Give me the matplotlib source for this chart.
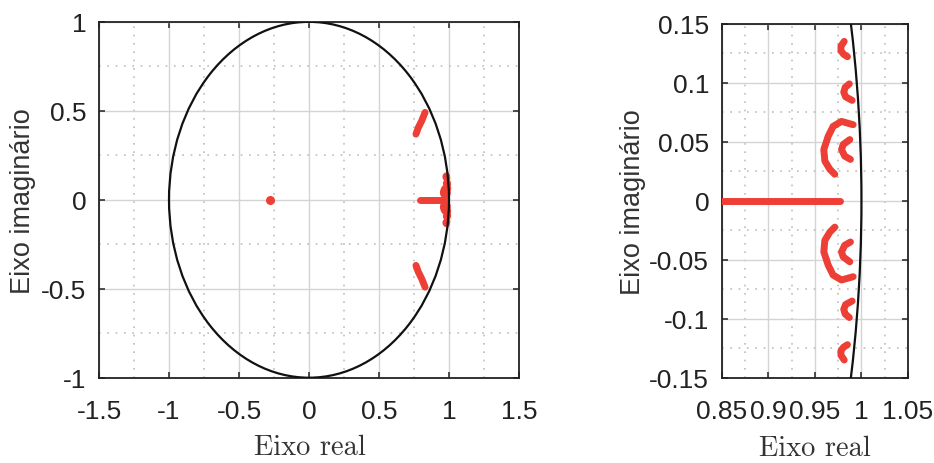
import numpy as np
import matplotlib
matplotlib.use('Agg')
import matplotlib.pyplot as plt
from matplotlib.patches import Circle
from matplotlib.ticker import MultipleLocator
from matplotlib import font_manager

# ── Pole loci (upper half; lower half is the complex conjugate) ──
dot_re = [-0.28]
dot_im = [0.0]

real_re = [0.79, 0.977]
real_im = [0.0, 0.0]

far_re = [0.764, 0.781, 0.805, 0.829]
far_im = [0.369, 0.406, 0.444, 0.491]

b1_re = [0.9815, 0.978, 0.978, 0.981, 0.985]
b1_im = [0.135, 0.131, 0.127, 0.124, 0.122]

b2_re = [0.987, 0.9825, 0.981, 0.983, 0.990]
b2_im = [0.099, 0.096, 0.092, 0.088, 0.085]

b3_re = [0.9911, 0.9786, 0.9696, 0.9643, 0.9596, 0.9607, 0.9661, 0.9714]
b3_im = [0.0644, 0.0672, 0.0630, 0.0546, 0.0434, 0.0336, 0.0266, 0.0224]

b4_re = [0.9875, 0.9804, 0.9786, 0.982, 0.9882]
b4_im = [0.0518, 0.0476, 0.0434, 0.0378, 0.0350]

branches = [(far_re, far_im), (b1_re, b1_im), (b2_re, b2_im),
            (b3_re, b3_im), (b4_re, b4_im)]

RED = '#EE3F36'

names = {f.name for f in font_manager.fontManager.ttflist}
if 'Liberation Sans Narrow' in names:
    TICK_FONT, TICK_SIZE = ['Liberation Sans Narrow', 'Liberation Sans'], 20
else:
    TICK_FONT, TICK_SIZE = ['Liberation Sans'], 19


def draw(ax):
    ax.add_patch(Circle((0, 0), 1.0, fill=False, color='#111111', lw=1.6, zorder=4))
    ax.plot(real_re, real_im, color=RED, lw=5, solid_capstyle='round', zorder=3)
    for re, im in branches:
        ax.plot(re, im, color=RED, lw=5, solid_capstyle='round',
                solid_joinstyle='round', zorder=3)
        ax.plot(re, [-v for v in im], color=RED, lw=5, solid_capstyle='round',
                solid_joinstyle='round', zorder=3)
    ax.plot(dot_re, dot_im, 'o', color=RED, ms=6.5, mec='none', zorder=3)

    ax.grid(True, which='major', color='#d4d4d4', lw=1.0, ls='-')
    ax.grid(True, which='minor', color='#bdbdbd', lw=1.2, ls=(0, (1, 4)))
    ax.set_axisbelow(True)
    for s in ax.spines.values():
        s.set_linewidth(1.3)
        s.set_color('#222222')
    ax.tick_params(which='major', direction='in', length=4, width=1.1,
                   top=True, right=True, colors='#222222')
    ax.tick_params(which='minor', length=0)
    ax.tick_params(axis='x', pad=15)
    ax.tick_params(axis='y', pad=9)
    for lab in ax.get_xticklabels() + ax.get_yticklabels():
        lab.set_family(TICK_FONT)
        lab.set_fontsize(TICK_SIZE)
        lab.set_color('#222222')
    ax.set_xlabel('Eixo real', family='cmr10', fontsize=20.5, color='#333333')
    ax.set_ylabel('Eixo imaginário', family='Liberation Sans', fontsize=19.5,
                  color='#333333')
    ax.xaxis.label.set_va('center')
    ax.yaxis.label.set_va('center')


def fmt(v, pos):
    s = ('%.2f' % v).rstrip('0').rstrip('.')
    if s in ('-0', ''):
        s = '0'
    return s


fig = plt.figure(figsize=(9.34, 4.64), dpi=100)
ax1 = fig.add_axes([0.106, 0.1838, 0.4497, 0.767])
ax2 = fig.add_axes([0.7727, 0.1838, 0.1995, 0.763])

ax1.set_xlim(-1.5, 1.5)
ax1.set_ylim(-1, 1)
ax1.xaxis.set_major_locator(MultipleLocator(0.5))
ax1.xaxis.set_minor_locator(MultipleLocator(0.25))
ax1.yaxis.set_major_locator(MultipleLocator(0.5))
ax1.yaxis.set_minor_locator(MultipleLocator(0.25))

ax2.set_xlim(0.85, 1.05)
ax2.set_ylim(-0.15, 0.15)
ax2.xaxis.set_major_locator(MultipleLocator(0.05))
ax2.xaxis.set_minor_locator(MultipleLocator(0.025))
ax2.yaxis.set_major_locator(MultipleLocator(0.05))
ax2.yaxis.set_minor_locator(MultipleLocator(0.025))

for ax in (ax1, ax2):
    ax.xaxis.set_major_formatter(fmt)
    ax.yaxis.set_major_formatter(fmt)
    draw(ax)

ax1.xaxis.set_label_coords(0.502, -0.195)
ax1.yaxis.set_label_coords(-0.181, 0.5)
ax2.xaxis.set_label_coords(0.5, -0.199)
ax2.yaxis.set_label_coords(-0.476, 0.5)

fig.savefig('out.png', dpi=100)
